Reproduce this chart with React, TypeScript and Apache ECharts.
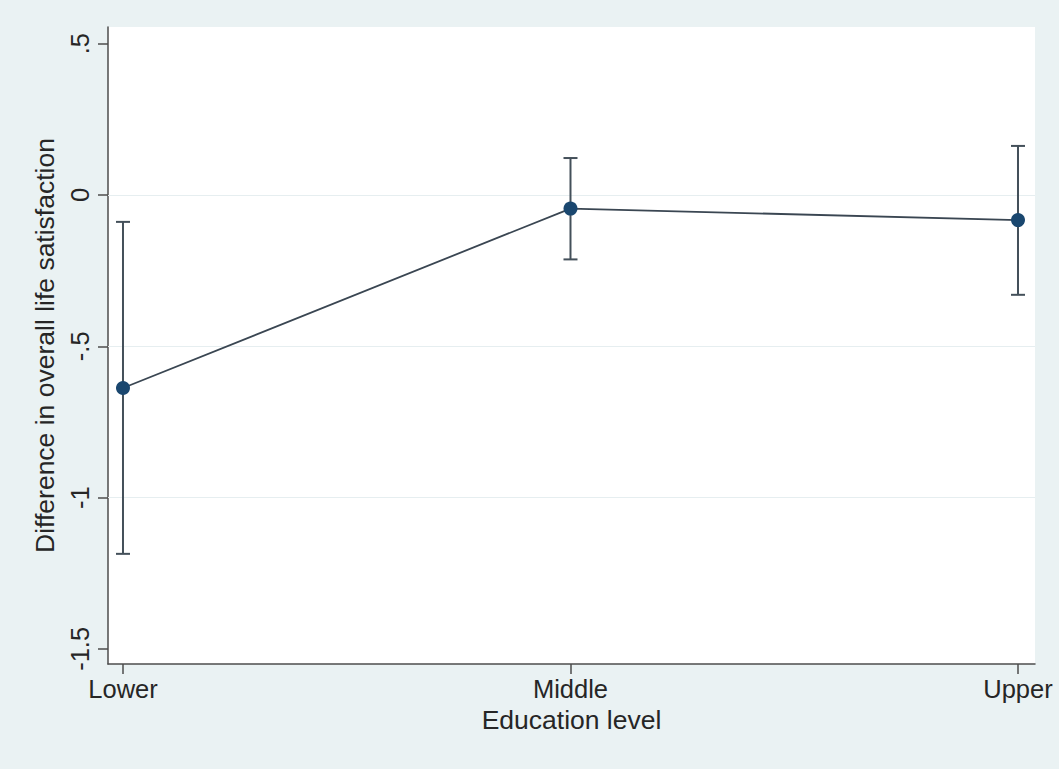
import React, { useEffect, useRef } from "react";
import * as echarts from "echarts";

const categories = ["Lower", "Middle", "Upper"];
const estimates = [-0.638, -0.045, -0.083];
const ciLower = [-1.186, -0.213, -0.33];
const ciUpper = [-0.089, 0.122, 0.162];
const yTicks = [-1.5, -1, -0.5, 0, 0.5];
const gridValues = [-1, -0.5, 0];
const xTitle = "Education level";
const yTitle = "Difference in overall life satisfaction";

const FONT = "'Liberation Sans', Arial, sans-serif";
const TEXT = "#262626";

function fmtY(v: number): string {
  if (v === 0) return "0";
  const s = String(v);
  return s.replace("0.", ".");
}

export default function App() {
  const ref = useRef<HTMLDivElement>(null);
  useEffect(() => {
    document.body.style.margin = "0";
    const chart = echarts.init(ref.current!, undefined, { renderer: "svg" });
    const pts = estimates.map((v, i) => [i, v]);
    const bars = categories.map((_, i) => [i, ciLower[i], ciUpper[i]]);
    chart.setOption({
      animation: false,
      backgroundColor: "#eaf2f3",
      textStyle: { fontFamily: FONT },
      grid: {
        left: 108,
        right: 24,
        top: 27,
        bottom: 105,
        show: true,
        backgroundColor: "#ffffff",
        borderWidth: 0,
      },
      xAxis: {
        type: "value",
        min: -0.0335,
        max: 2.038,
        name: xTitle,
        nameLocation: "middle",
        nameGap: 41,
        nameTextStyle: { fontSize: 26.5, color: TEXT, fontFamily: FONT },
        axisLine: { show: true, onZero: false, lineStyle: { color: "#4d4d4d", width: 1.5 } },
        axisTick: { show: true, length: 10, customValues: [0, 1, 2], lineStyle: { color: "#4d4d4d", width: 1.5 } },
        axisLabel: {
          show: true,
          customValues: [0, 1, 2],
          formatter: (v: number) => categories[Math.round(v)] ?? "",
          fontSize: 25.5,
          color: TEXT,
          fontFamily: FONT,
          margin: 12,
        },
        splitLine: { show: false },
      },
      yAxis: {
        type: "value",
        min: -1.55,
        max: 0.555,
        name: yTitle,
        nameLocation: "middle",
        nameGap: 50,
        nameRotate: 90,
        nameTextStyle: { fontSize: 26.5, color: TEXT, fontFamily: FONT },
        axisLine: { show: true, onZero: false, lineStyle: { color: "#4d4d4d", width: 1.5 } },
        axisTick: { show: true, length: 10, customValues: yTicks, lineStyle: { color: "#4d4d4d", width: 1.5 } },
        axisLabel: {
          show: true,
          customValues: yTicks,
          formatter: (v: number) => fmtY(v),
          rotate: 90,
          fontSize: 25.5,
          color: TEXT,
          fontFamily: FONT,
          margin: 15,
        },
        splitLine: { show: false },
      },
      series: [
        {
          type: "custom",
          silent: true,
          data: bars,
          z: 3,
          renderItem: (params: any, api: any) => {
            const x = api.value(0);
            const lo = api.coord([x, api.value(1)]);
            const hi = api.coord([x, api.value(2)]);
            const hw = 7;
            const style = { stroke: "#44505a", lineWidth: 2 };
            return {
              type: "group",
              children: [
                { type: "line", shape: { x1: lo[0], y1: lo[1], x2: hi[0], y2: hi[1] }, style },
                { type: "line", shape: { x1: lo[0] - hw, y1: lo[1], x2: lo[0] + hw, y2: lo[1] }, style },
                { type: "line", shape: { x1: hi[0] - hw, y1: hi[1], x2: hi[0] + hw, y2: hi[1] }, style },
              ],
            };
          },
        },
        {
          type: "line",
          data: pts,
          z: 4,
          symbol: "circle",
          symbolSize: 14,
          itemStyle: { color: "#1a476f" },
          lineStyle: { color: "#3a4652", width: 1.8 },
          markLine: {
            silent: true,
            symbol: "none",
            label: { show: false },
            lineStyle: { color: "#e6eef0", width: 1, type: "solid" },
            data: gridValues.map((v) => ({ yAxis: v })),
            z: 1,
          },
        },
      ],
    });
    return () => chart.dispose();
  }, []);
  return <div ref={ref} style={{ width: 1059, height: 769 }} />;
}
